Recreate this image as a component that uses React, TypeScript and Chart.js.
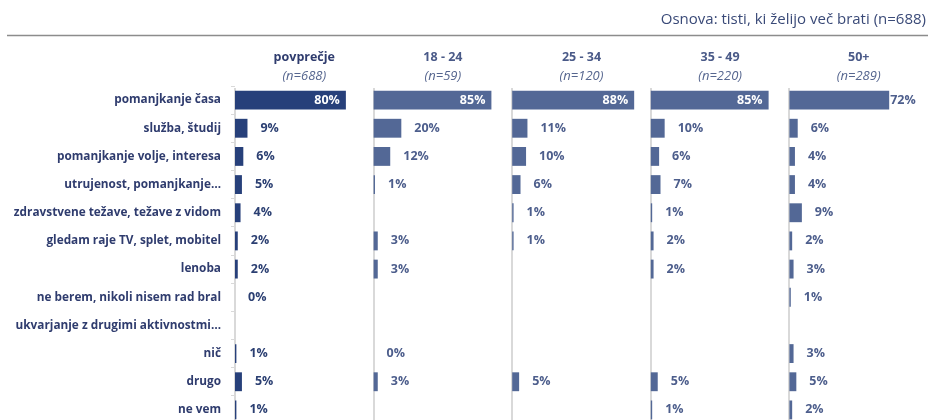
import React, { useEffect, useRef } from "react";
import { Chart, registerables } from "chart.js";

Chart.register(...registerables);

const categories = [
  "pomanjkanje časa",
  "služba, študij",
  "pomanjkanje volje, interesa",
  "utrujenost, pomanjkanje…",
  "zdravstvene težave, težave z vidom",
  "gledam raje TV, splet, mobitel",
  "lenoba",
  "ne berem, nikoli nisem rad bral",
  "ukvarjanje z drugimi aktivnostmi…",
  "nič",
  "drugo",
  "ne vem",
];

const groupNames = ["povprečje", "18 - 24", "25 - 34", "35 - 49", "50+"];
const groupN = ["(n=688)", "(n=59)", "(n=120)", "(n=220)", "(n=289)"];

const avgValues = [80, 9, 6, 5, 4, 2, 2, 0, null, 1, 5, 1];
const age18Values = [85, 20, 12, 1, null, 3, 3, null, null, 0, 3, null];
const age25Values = [88, 11, 10, 6, 1, 1, null, null, null, null, 5, null];
const age35Values = [85, 10, 6, 7, 1, 2, 2, null, null, null, 5, 1];
const age50Values = [72, 6, 4, 4, 9, 2, 3, 1, null, 3, 5, 2];

const seriesValues = [avgValues, age18Values, age25Values, age35Values, age50Values];

const titleText = "Osnova: tisti, ki želijo več brati (n=688)";

const FONT = "'Open Sans', Lato, sans-serif";
const barColors = ["#27407A", "#536896", "#536896", "#536896", "#536896"];
const labelColors = ["#2B3F72", "#4D5E8C", "#4D5E8C", "#4D5E8C", "#4D5E8C"];
const headColors = ["#2F3C6E", "#4A5A88", "#4A5A88", "#4A5A88", "#4A5A88"];

const decorPlugin = {
  id: "decor",
  beforeDatasetsDraw(chart: any) {
    const ctx = chart.ctx;
    const area = chart.chartArea;
    ctx.save();
    ctx.strokeStyle = "#d9d9d9";
    ctx.lineWidth = 2;
    for (let i = 0; i < 5; i++) {
      const sc = chart.scales["x" + i];
      const x = Math.round(sc.getPixelForValue(0));
      ctx.beginPath();
      ctx.moveTo(x, area.top + 2);
      ctx.lineTo(x, area.bottom);
      ctx.stroke();
    }
    ctx.fillStyle = "#3A4A78";
    ctx.font = `15px ${FONT}`;
    ctx.textAlign = "right";
    ctx.textBaseline = "middle";
    ctx.fillText(titleText, 926, 20);
    ctx.strokeStyle = "#8c8c8c";
    ctx.lineWidth = 1.5;
    ctx.beginPath();
    ctx.moveTo(7, 35.5);
    ctx.lineTo(chart.width, 35.5);
    ctx.stroke();
    ctx.textAlign = "center";
    for (let i = 0; i < 5; i++) {
      const sc = chart.scales["x" + i];
      const cx = sc.getPixelForValue(50);
      ctx.fillStyle = headColors[i];
      ctx.font = `bold 12.5px ${FONT}`;
      ctx.fillText(groupNames[i], cx, 57);
      ctx.fillStyle = "#56668F";
      ctx.font = `italic 13px ${FONT}`;
      ctx.fillText(groupN[i], cx, 76);
    }
    ctx.restore();
  },
  afterDatasetsDraw(chart: any) {
    const ctx = chart.ctx;
    ctx.save();
    ctx.font = `bold 12.5px ${FONT}`;
    ctx.textBaseline = "middle";
    chart.data.datasets.forEach((ds: any, i: number) => {
      const meta = chart.getDatasetMeta(i);
      meta.data.forEach((el: any, j: number) => {
        const v = ds.data[j];
        if (v === null || v === undefined) return;
        const txt = v + "%";
        if (v >= 75) {
          ctx.fillStyle = "#ffffff";
          ctx.textAlign = "right";
          ctx.fillText(txt, el.x - 6, el.y);
        } else if (v >= 50) {
          ctx.fillStyle = labelColors[i];
          ctx.textAlign = "left";
          ctx.fillText(txt, el.x + 1, el.y);
        } else {
          ctx.fillStyle = labelColors[i];
          ctx.textAlign = "left";
          ctx.fillText(txt, el.x + 13, el.y);
        }
      });
    });
    ctx.restore();
  },
};

export default function App() {
  const ref = useRef<HTMLCanvasElement | null>(null);
  useEffect(() => {
    if (!ref.current) return;
    const xScales: any = {};
    for (let i = 0; i < 5; i++) {
      xScales["x" + i] = {
        type: "linear",
        display: false,
        min: -100 * i,
        max: 500 - 100 * i,
      };
    }
    const chart = new Chart(ref.current, {
      type: "bar",
      data: {
        labels: categories,
        datasets: seriesValues.map((vals, i) => ({
          label: groupNames[i],
          data: vals as any,
          xAxisID: "x" + i,
          backgroundColor: barColors[i],
          grouped: false,
          barPercentage: 0.67,
          categoryPercentage: 1,
        })),
      },
      options: {
        indexAxis: "y",
        animation: false,
        responsive: false,
        maintainAspectRatio: false,
        layout: { autoPadding: false, padding: { top: 86, right: -2, left: 0, bottom: 0 } },
        plugins: { legend: { display: false }, tooltip: { enabled: false }, title: { display: false } },
        scales: {
          ...xScales,
          y: {
            type: "category",
            position: "left",
            grid: {
              display: true,
              drawOnChartArea: false,
              tickLength: 4,
              color: "#d9d9d9",
              offset: true,
            },
            border: { display: false },
            ticks: {
              color: "#2F3C6E",
              font: { family: FONT, size: 11.8, weight: "bold" },
              padding: 10,
              autoSkip: false,
            },
            afterFit(scale: any) {
              scale.width = 235;
              scale.paddingTop = 0;
              scale.paddingBottom = 0;
            },
          },
        },
      } as any,
      plugins: [decorPlugin],
    });
    return () => chart.destroy();
  }, []);
  return (
    <div style={{ position: "absolute", left: 0, top: 0, width: 928, height: 420, overflow: "hidden", background: "#fff" }}>
      <canvas ref={ref} width={928} height={424} style={{ display: "block" }} />
    </div>
  );
}
